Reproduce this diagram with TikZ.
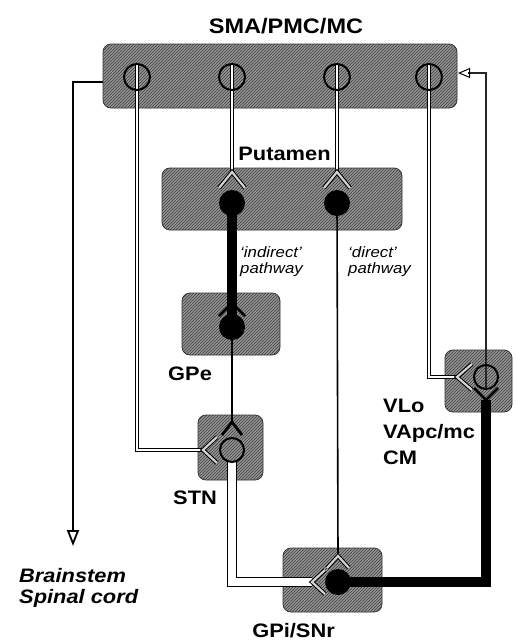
\documentclass[tikz,border=0pt]{standalone}
\usepackage{fontspec}
\newfontfamily\labfont{Liberation Sans}[FakeStretch=1.12]
\usetikzlibrary{patterns,arrows.meta}
\begin{document}
\begin{tikzpicture}[x=1pt,y=-1pt,
  region/.style={draw=gray!40!black, line width=0.8pt, rounded corners=8pt, fill=black!42,
    postaction={pattern=north east lines, pattern color=black!75}, inner sep=0pt},
  openn/.style={circle, draw=black, line width=2pt, minimum size=26pt, inner sep=0pt},
  fulln/.style={circle, fill=black, minimum size=26pt, inner sep=0pt},
  axon/.style={draw=black, line width=1pt, double=white, double distance=2.6pt, line join=miter},
  chev/.style={draw=black, line width=1pt, double=gray!35, double distance=2.2pt, line join=miter},
  fineaxon/.style={draw=black, line width=1.6pt},
  fataxon/.style={draw=black, line width=10pt, line join=miter},
  blackchev/.style={draw=black, line width=2.8pt, line join=miter},
  lab/.style={font=\labfont\bfseries\fontsize{19.5}{22}\selectfont, inner sep=0pt},
  ital/.style={font=\labfont\itshape\fontsize{15}{15}\selectfont, inner sep=0pt},
  bital/.style={font=\labfont\bfseries\itshape\fontsize{19.5}{22}\selectfont, inner sep=0pt}
]
\useasboundingbox (0,0) rectangle (515,640);

% regions
\node[region, minimum width=354pt, minimum height=64pt] (cortex) at (280,76) {};
\node[region, minimum width=240pt, minimum height=62pt] (putamen) at (282,199) {};
\node[region, minimum width=98pt, minimum height=62pt] (gpe) at (231,324) {};
\node[region, minimum width=65pt, minimum height=65pt] (stn) at (230.5,447.5) {};
\node[region, minimum width=99pt, minimum height=64pt] (gpi) at (332.5,580) {};
\node[region, minimum width=67pt, minimum height=62pt] (thal) at (478.5,381) {};

% neuron positions (coordinates first, nodes drawn last)
\coordinate (c1p) at (137,77);
\coordinate (c2p) at (232,77);
\coordinate (c3p) at (337,77);
\coordinate (c4p) at (429,77);
\coordinate (p1p) at (232,203);
\coordinate (p2p) at (337,203);
\coordinate (gep) at (232,327);
\coordinate (stp) at (232,450);
\coordinate (gpp) at (338,582);
\coordinate (thp) at (486,377);

% synapse coordinates
\coordinate (p1apex) at (232,172); \coordinate (p1l) at (219,188); \coordinate (p1r) at (245,188);
\coordinate (p2apex) at (337,172); \coordinate (p2l) at (324,188); \coordinate (p2r) at (350,188);
\coordinate (gea) at (232,303); \coordinate (gel) at (219,316); \coordinate (ger) at (245,316);
\coordinate (sta) at (232,422); \coordinate (stl) at (222,435); \coordinate (str) at (242,435);
\coordinate (stla) at (203,450); \coordinate (stlu) at (217,437); \coordinate (stld) at (217,463);
\coordinate (gpa) at (338,556); \coordinate (gpl) at (327,568); \coordinate (gpr) at (349,568);
\coordinate (gpla) at (312,582); \coordinate (gplu) at (325,570); \coordinate (gpld) at (325,594);
\coordinate (tha) at (457,377); \coordinate (thu) at (472,364); \coordinate (thd) at (472,390);
\coordinate (thb) at (486,400); \coordinate (thbl) at (474,388); \coordinate (thbr) at (498,388);
\coordinate (ctxr) at (458,73);
\coordinate (ctxl) at (103,82);
\coordinate (bs) at (73,546);

% cortical outputs
\draw[axon] ([yshift=13pt]c1p) |- (stla);
\draw[axon] ([yshift=13pt]c2p) -- (p1apex);
\draw[axon] ([yshift=13pt]c3p) -- (p2apex);
\draw[axon] ([yshift=13pt]c4p) |- (tha);

% pathways
\draw[fataxon] (p1p) -- (gep);
\draw[fineaxon] (p2p) -- (gpa);
\draw[fineaxon] (gep) -- (sta);
\draw[axon, line width=1.3pt, double distance=8pt] ([yshift=-12pt]stp) |- (gpla);
\draw[fataxon] (gpp) -| (thb);
\draw[draw=black!85, line width=2.4pt] ([yshift=-12pt]thp) |- ([xshift=10pt]ctxr);
\draw[line width=1pt, -{Triangle[open, length=12pt, width=10pt]}] ([xshift=10pt]ctxr) -- (ctxr);
\draw[line width=1.8pt, -{Triangle[open, length=16pt, width=12pt]}] (ctxl) -| (bs);

% synapses
\draw[chev] (p1l) -- (p1apex) -- (p1r);
\draw[chev] (p2l) -- (p2apex) -- (p2r);
\draw[blackchev] (gel) -- (gea) -- (ger);
\draw[blackchev] (stl) -- (sta) -- (str);
\draw[chev] (stlu) -- (stla) -- (stld);
\draw[chev] (gpl) -- (gpa) -- (gpr);
\draw[chev] (gplu) -- (gpla) -- (gpld);
\draw[chev] (thu) -- (tha) -- (thd);
\draw[blackchev] (thbl) -- (thb) -- (thbr);

% neurons
\node[openn] (c1) at (c1p) {};
\node[openn] (c2) at (c2p) {};
\node[openn] (c3) at (c3p) {};
\node[openn] (c4) at (c4p) {};
\node[fulln] (p1) at (p1p) {};
\node[fulln] (p2) at (p2p) {};
\node[fulln] (ge) at (gep) {};
\node[openn, minimum size=24pt] (st) at (stp) {};
\node[fulln] (gp) at (gpp) {};
\node[openn, minimum size=24pt] (th) at (thp) {};

% labels
\node[lab, font=\labfont\bfseries\fontsize{21}{24}\selectfont, anchor=base] (title) at (286,33) {SMA/PMC/MC};
\node[lab, anchor=base] (putl) at (284.5,160) {Putamen};
\node[lab, anchor=base west] (gpel) at (168,380) {GPe};
\node[lab, anchor=base west] (stnl) at (173,504) {STN};
\node[lab, anchor=base east] (gpil) at (335,637) {GPi/SNr};
\node[lab, anchor=base west] (vlo) at (383,412) {VLo};
\node[lab, anchor=base west] (vapc) at (383,438) {VApc/mc};
\node[lab, anchor=base west] (cm) at (383,464) {CM};
\node[ital, anchor=base west] (ind1) at (240,257) {‘indirect’};
\node[ital, anchor=base west] (ind2) at (240,273) {pathway};
\node[ital, anchor=base west] (dir1) at (348,257) {‘direct’};
\node[ital, anchor=base west] (dir2) at (348,273) {pathway};
\node[bital, anchor=base west] (bs1) at (19,582) {Brainstem};
\node[bital, anchor=base west] (bs2) at (19,603) {Spinal cord};
\end{tikzpicture}
\end{document}
